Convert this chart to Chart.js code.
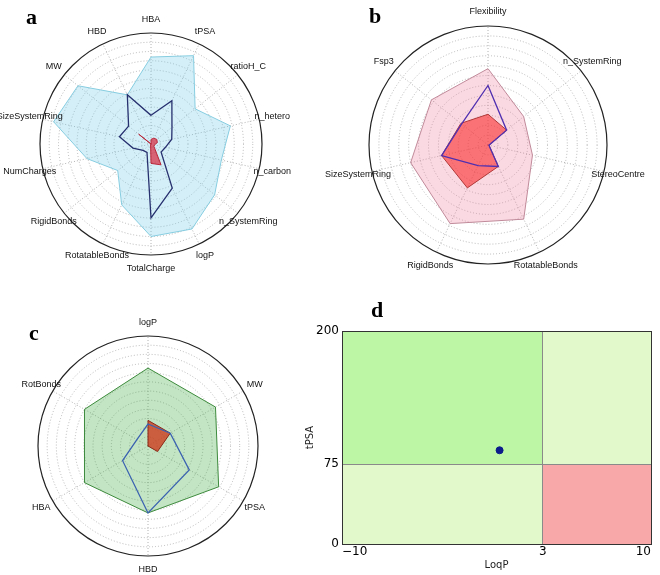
<!DOCTYPE html>
<html>
<head>
<meta charset="utf-8">
<script src="https://cdn.jsdelivr.net/npm/chart.js@4.4.1/dist/chart.umd.min.js"></script>
<style>
  body { margin: 0; background: #fff; }
  #fig { position: relative; width: 660px; height: 575px; overflow: hidden; }
  #fig canvas { position: absolute; }
  .tag { position: absolute; font: bold 22px "Liberation Serif", "DejaVu Serif", serif; line-height: 22px; color: #000; }
</style>
</head>
<body>
<div id="fig">
  <canvas id="chartA" width="310" height="290" style="left:0;top:0"></canvas>
  <canvas id="chartB" width="350" height="290" style="left:310px;top:0"></canvas>
  <canvas id="chartC" width="310" height="285" style="left:0;top:290px"></canvas>
  <canvas id="chartD" width="360" height="285" style="left:300px;top:290px"></canvas>
  <div class="tag" style="left:26px;top:6px">a</div>
  <div class="tag" style="left:369px;top:5px">b</div>
  <div class="tag" style="left:29px;top:322px">c</div>
  <div class="tag" style="left:371px;top:299px">d</div>
</div>
<script>
// panel a
const aLabels = ["HBA", "tPSA", "ratioH_C", "n_hetero", "n_carbon", "n_SystemRing", "logP",
    "TotalCharge", "RotatableBonds", "RigidBonds", "NumCharges", "SizeSystemRing", "MW", "HBD"];
const aUpper = [9.4, 10.6, 6.1, 8.8, 7.8, 8.8, 10.2, 10.0, 7.3, 4.6, 7.1, 10.8, 10.1, 5.9];
const aCompound = [3.1, 5.2, 2.9, 2.3, 1.6, 1.4, 5.3, 8.0, 1.0, 1.1, 2.0, 3.5, 3.1, 5.9];
const aLower = [0.5, 0.7, 0.8, 0.7, 0.4, 0.4, 2.5, 2.1, 0.1, 0, 0, 0, 1.7, 0];

// panel b
const bLabels = ["Flexibility", "n_SystemRing", "StereoCentre", "RotatableBonds", "RigidBonds", "SizeSystemRing", "Fsp3"];
const bUpper = [7.7, 4.6, 4.6, 8.3, 8.8, 8.0, 7.3];
const bCompound = [6.0, 2.4, 0.1, 2.4, 2.3, 4.8, 3.4];
const bLower = [3.1, 2.4, 0.1, 2.4, 4.8, 4.8, 3.5];

// panel c
const cLabels = ["logP", "MW", "tPSA", "HBD", "HBA", "RotBonds"];
const cUpper = [8.5, 8.5, 8.9, 7.3, 8.0, 8.0];
const cCompound = [2.4, 2.8, 5.2, 7.3, 3.2, 1.4];
const cLower = [2.8, 2.8, 1.2, 0, 0, 0];

// panel d
const dTicksX = [-10, 3, 10];
const dTicksY = [0, 75, 200];
const dLogP = [0.2];
const dTPSA = [88];
const dZoneColors = ["#bdf7a5", "#e2f9cc", "#e2f9cc", "#f8a8a8"]; // sup-esq, sup-dir, inf-esq, inf-dir

const RMAX = 12;

// rótulos centrados fora do círculo, como no matplotlib
const radarLabels = {
    id: "radarLabels",
    afterDraw(chart) {
        const r = chart.scales.r;
        const ctx = chart.ctx;
        ctx.save();
        ctx.font = '9px "Liberation Sans"';
        ctx.fillStyle = "#111";
        ctx.textAlign = "center";
        ctx.textBaseline = "middle";
        chart.data.labels.forEach((label, i) => {
            const p = r.getPointPosition(i, r.drawingArea * 1.12);
            ctx.fillText(label, p.x, p.y);
        });
        ctx.restore();
    }
};

function makeRadar(id, labels, upper, compound, lower, colors, pad) {
    return new Chart(document.getElementById(id), {
        type: "radar",
        plugins: [radarLabels],
        data: {
            labels: labels,
            datasets: [
                { label: "composto", data: compound, borderColor: colors.line, borderWidth: 1.3, fill: false, order: 1 },
                { label: "min", data: lower, backgroundColor: colors.lowFill, borderColor: colors.lowEdge, borderWidth: 1, fill: true, order: 2 },
                { label: "max", data: upper, backgroundColor: colors.upFill, borderColor: colors.upEdge, borderWidth: 1, fill: true, order: 3 }
            ]
        },
        options: {
            responsive: false,
            animation: false,
            layout: { padding: pad },
            elements: { line: { tension: 0 }, point: { radius: 0, hitRadius: 0 } },
            plugins: { legend: { display: false }, tooltip: { enabled: false } },
            scales: {
                r: {
                    min: 0,
                    max: RMAX,
                    ticks: { display: false, stepSize: 1 },
                    pointLabels: { display: false },
                    angleLines: { color: "#a0a0a0", lineWidth: 0.8, borderDash: [1, 2] },
                    grid: {
                        circular: true,
                        color: c => c.tick.value === RMAX ? "#222" : "#a8a8a8",
                        lineWidth: c => c.tick.value === RMAX ? 1.2 : 0.8
                    },
                    border: { dash: c => c.tick.value === RMAX ? [] : [1, 2] }
                }
            }
        }
    });
}

makeRadar("chartA", aLabels, aUpper, aCompound, aLower, {
    upFill: "rgba(125,205,235,0.32)", upEdge: "#86cde0", line: "#26306e",
    lowFill: "rgba(215,40,60,0.7)", lowEdge: "#b8283a"
}, { left: 40, right: 48, top: 33, bottom: 35 });

makeRadar("chartB", bLabels, bUpper, bCompound, bLower, {
    upFill: "rgba(240,128,160,0.3)", upEdge: "#c08a9a", line: "#5030b0",
    lowFill: "rgba(250,45,45,0.6)", lowEdge: "#b03a3a"
}, { left: 59, right: 53, top: 26, bottom: 26 });

makeRadar("chartC", cLabels, cUpper, cCompound, cLower, {
    upFill: "rgba(60,170,60,0.3)", upEdge: "#3d8a3d", line: "#3a62b0",
    lowFill: "rgba(205,60,30,0.8)", lowEdge: "#8a2a18"
}, { left: 38, right: 52, top: 46, bottom: 19 });

// Painel d: zonas por faixas de logP / tPSA
const [x0, xs, x1] = dTicksX;
const [y0, ys, y1] = dTicksY;
const zoneBox = [[x0, xs, y1, ys], [xs, x1, y1, ys], [x0, xs, ys, y0], [xs, x1, ys, y0]];
const zoneSets = zoneBox.map((z, i) => ({
    data: [{ x: z[0], y: z[2] }, { x: z[1], y: z[2] }],
    fill: { value: z[3] },
    backgroundColor: dZoneColors[i],
    borderWidth: 0,
    pointRadius: 0,
    order: 2
}));

const edgeColor = (ticks) => c => (c.tick && (c.tick.value === ticks[0] || c.tick.value === ticks[ticks.length - 1])) ? "#333" : "#8a8a8a";

new Chart(document.getElementById("chartD"), {
    type: "line",
    data: {
        datasets: zoneSets.concat([{
            data: dLogP.map((v, i) => ({ x: v, y: dTPSA[i] })),
            showLine: false,
            pointRadius: 3.5,
            backgroundColor: "#0c1c8a",
            borderColor: "#0c1c8a",
            order: 0
        }])
    },
    options: {
        responsive: false,
        animation: false,
        layout: { padding: { left: 0, right: 9, top: 41, bottom: 0 } },
        plugins: { legend: { display: false }, tooltip: { enabled: false } },
        scales: {
            x: {
                type: "linear",
                min: x0, max: x1,
                afterBuildTicks: s => { s.ticks = dTicksX.map(v => ({ value: v })); },
                afterFit: s => { s.height = 31; },
                ticks: {
                    align: "inner", autoSkip: false, maxRotation: 0, padding: 1,
                    color: "#000", font: { family: "DejaVu Sans", size: 12 },
                    callback: v => v < 0 ? "\u2212" + Math.abs(v) : String(v)
                },
                grid: { drawTicks: false, z: 1, color: edgeColor(dTicksX), lineWidth: 1 },
                border: { color: "#333", z: 1 },
                title: { display: true, text: "LoqP", color: "#222", font: { family: "DejaVu Sans", size: 10 }, padding: { top: 2, bottom: 4 } }
            },
            y: {
                min: y0, max: y1,
                afterBuildTicks: s => { s.ticks = dTicksY.map(v => ({ value: v })); },
                afterFit: s => { s.width = 42; },
                ticks: { padding: 3, color: "#000", font: { family: "DejaVu Sans", size: 12 } },
                grid: { drawTicks: false, z: 1, color: edgeColor(dTicksY), lineWidth: 1 },
                border: { color: "#333", z: 1 },
                title: { display: true, text: "tPSA", color: "#222", font: { family: "DejaVu Sans", size: 10 }, padding: { top: 4, bottom: 2 } }
            }
        }
    }
});
</script>
</body>
</html>
